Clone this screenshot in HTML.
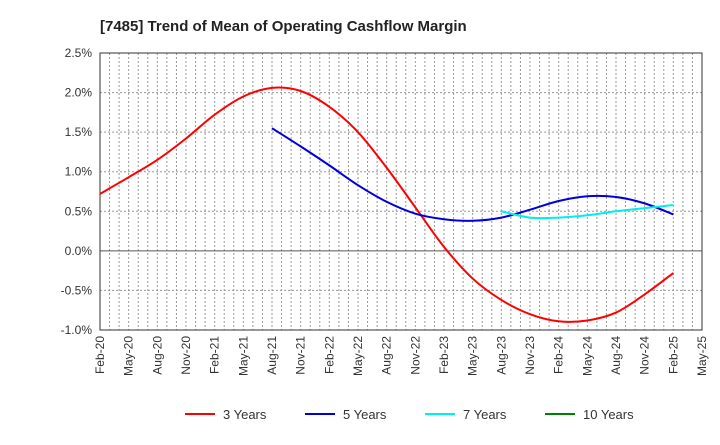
<!DOCTYPE html>
<html><head><meta charset="utf-8"><style>
body{margin:0;background:#fff;font-family:"Liberation Sans",sans-serif}
</style></head><body>
<svg id="c" width="720" height="440" xmlns="http://www.w3.org/2000/svg">
<text x="100" y="31" font-size="15" font-weight="bold" fill="#222">[7485]  Trend of Mean of Operating Cashflow Margin</text>
<g id="grid"></g><g id="axes"></g><g id="series"></g><g id="legend"></g>
</svg>
<script>
const xLabels=["Feb-20","May-20","Aug-20","Nov-20","Feb-21","May-21","Aug-21","Nov-21","Feb-22","May-22","Aug-22","Nov-22","Feb-23","May-23","Aug-23","Nov-23","Feb-24","May-24","Aug-24","Nov-24","Feb-25","May-25"];
const yTicks=[2.5,2.0,1.5,1.0,0.5,0.0,-0.5,-1.0];
const s3=[0.72,0.93,1.15,1.42,1.72,1.95,2.06,2.02,1.82,1.50,1.05,0.55,0.05,-0.35,-0.62,-0.80,-0.89,-0.88,-0.78,-0.55,-0.28];
const s5=[1.55,1.32,1.08,0.83,0.62,0.47,0.40,0.38,0.42,0.52,0.63,0.69,0.68,0.60,0.46];
const s7=[0.50,0.42,0.42,0.45,0.50,0.54,0.58];
const s10=[];
const X0=100,X1=702,Y0=53,Y1=330;
const x=q=>X0+(X1-X0)*q/21;
const y=v=>Y0+(2.5-v)/3.5*(Y1-Y0);
const NS="http://www.w3.org/2000/svg";
function mk(t,a,p){const e=document.createElementNS(NS,t);for(const k in a)e.setAttribute(k,a[k]);p.appendChild(e);return e;}
const grid=document.getElementById('grid'),axes=document.getElementById('axes'),ser=document.getElementById('series'),leg=document.getElementById('legend');
for(let m=1;m<63;m++){const xx=X0+(X1-X0)*m/63;
const l=mk('line',{x1:xx,x2:xx,y1:Y0,y2:Y1,stroke:'#999','stroke-dasharray':'2,2','stroke-width':1},grid);

}
yTicks.forEach(v=>{const yy=y(v);
const l=mk('line',{x1:X0,x2:X1,y1:yy,y2:yy,stroke:v===0?'#555':'#999','stroke-dasharray':v===0?'':'2,2','stroke-width':1},grid);


const t=mk('text',{x:X0-8,y:yy+4,'text-anchor':'end','font-size':12,fill:'#333'},axes);t.textContent=v.toFixed(1)+'%';

});
const fr=mk('rect',{x:X0,y:Y0,width:X1-X0,height:Y1-Y0,fill:'none',stroke:'#333','stroke-width':1},axes);


xLabels.forEach((s,i)=>{const xx=x(i);
const t=mk('text',{x:xx+4,y:Y1+6,'text-anchor':'end','font-size':12,fill:'#333',transform:`rotate(-90 ${xx+4} ${Y1+6})`},axes);t.textContent=s;

});
function path(vals,start){const p=vals.map((v,i)=>[x(start+i),y(v)]);if(!p.length)return '';
let d=`M${p[0][0]},${p[0][1]}`;
for(let i=0;i<p.length-1;i++){const a=p[i-1]||p[i],b=p[i],c=p[i+1],e=p[i+2]||c;
d+=` C${b[0]+(c[0]-a[0])/6},${b[1]+(c[1]-a[1])/6} ${c[0]-(e[0]-b[0])/6},${c[1]-(e[1]-b[1])/6} ${c[0]},${c[1]}`;}return d;}
const series=[[s3,0,'#ff0000','3 Years','series-3-years'],[s5,6,'#0000dd','5 Years','series-5-years'],[s7,14,'#00eeee','7 Years','series-7-years'],[s10,20,'#008000','10 Years','series-10-years']];
series.forEach(([v,st,c,n,dn],i)=>{
if(v.length){const e=mk('path',{d:path(v,st),fill:'none',stroke:c,'stroke-width':2},ser);

}
const lx=[185,305,425,545][i];
const g=mk('g',{},leg);


mk('line',{x1:lx,x2:lx+30,y1:414,y2:414,stroke:c,'stroke-width':2},g);
const t=mk('text',{x:lx+38,y:419,'font-size':13,fill:'#333'},g);t.textContent=n;});
</script>
</body></html>
